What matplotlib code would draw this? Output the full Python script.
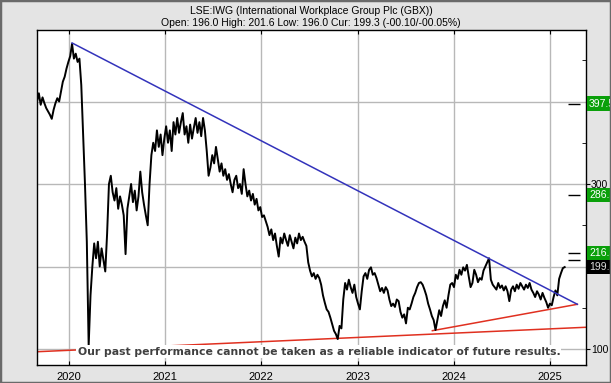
import numpy as np
import pandas as pd
import matplotlib
matplotlib.use('Agg')
import matplotlib.pyplot as plt
from matplotlib import font_manager
from matplotlib.patches import Rectangle

# weekly closes (GBX), first week starting 2019-09-03
start_date = '2019-09-03'
weekly_close = [
    400, 410, 396, 405, 398, 392, 388, 384, 379, 390,
    398, 404, 400, 412, 424, 430, 440, 448, 455, 470,
    452, 458, 448, 452, 420, 360, 300, 230, 104, 165,
    200, 228, 210, 230, 200, 222, 208, 194, 240, 300,
    310, 290, 280, 295, 270, 285, 275, 262, 215, 270,
    285, 300, 278, 292, 268, 285, 315, 290, 275, 262,
    250, 300, 335, 350, 340, 365, 345, 360, 335, 355,
    370, 350, 365, 340, 375, 360, 380, 362, 375, 386,
    360, 370, 350, 372, 355, 368, 380, 362, 375, 358,
    380, 365, 340, 310, 320, 335, 325, 345, 330, 315,
    325, 310, 318, 305, 312, 300, 290, 305, 310, 295,
    300, 288, 318, 300, 285, 292, 280, 288, 275, 282,
    268, 272, 260, 262, 255, 248, 238, 245, 232, 240,
    225, 212, 235, 228, 240, 232, 225, 238, 230, 222,
    235, 228, 240, 232, 236, 230, 225, 205, 195, 188,
    192, 185, 190, 186, 178, 165, 156, 148, 145, 138,
    130, 122, 118, 112, 128, 125, 160, 180, 172, 184,
    175, 168, 178, 163, 155, 148, 170, 188, 192, 185,
    196, 199, 190, 192, 186, 178, 170, 174, 168, 175,
    171, 160, 152, 155, 151, 160, 158, 145, 138, 142,
    131, 150, 148, 155, 163, 168, 175, 180, 181, 178,
    172, 165, 155, 148, 140, 135, 123, 135, 147, 140,
    152, 159, 150, 165, 178, 180, 175, 190, 185, 196,
    190, 199, 195, 202, 188, 175, 180, 196, 190, 181,
    186, 184, 195, 200, 205, 210, 184, 178, 175, 172,
    180, 174, 177, 171, 176, 170, 158, 172, 176, 170,
    178, 173, 180, 176, 172, 178, 174, 180, 172, 168,
    163, 170, 166, 160, 168, 162, 157, 150, 155, 153,
    163, 171, 165, 185, 192, 198, 199.3,
]

# trend lines
blue_dates = ['2020-01-14', '2025-04-14']
blue_vals = [471, 154.2]
red_low_dates = ['2019-09-04', '2025-05-14']
red_low_vals = [96.7, 126.3]
red_up_dates = ['2023-10-12', '2025-04-14']
red_up_vals = [122.2, 154.2]

# target levels (green boxes) and the current price (black box)
targets = [207.3, 216.5, 286.5, 397.5]
current = 199.3
marker_dates = ['2025-03-10', '2025-04-25']

years = [2020, 2021, 2022, 2023, 2024, 2025]
y_major = [100, 200, 300, 400]
y_minor = [150, 250, 350, 450]

title1 = 'LSE:IWG (International Workplace Group Plc (GBX))'
title2 = 'Open: 196.0 High: 201.6 Low: 196.0 Cur: 199.3 (-00.10/-00.05%)'
disclaimer = 'Our past performance cannot be taken as a reliable indicator of future results.'

plt.rcParams['font.family'] = ['Liberation Sans', 'DejaVu Sans']

dates = pd.date_range(start_date, periods=len(weekly_close), freq='7D')

fig = plt.figure(figsize=(6.11, 3.83), dpi=100)
fig.patch.set_facecolor('#e4e4e4')
fig.patches.append(Rectangle((0, 0), 1, 1, transform=fig.transFigure, fill=False,
                             ec='#6a6a6a', lw=2.5, zorder=0))

ax = fig.add_axes([37 / 611, 1 - 365 / 383, 548.5 / 611, 335.5 / 383])
ax.set_facecolor('white')

ax.plot(dates, weekly_close, color='black', lw=1.4, zorder=3)
ax.plot(pd.to_datetime(blue_dates), blue_vals, color='#3333bb', lw=1.1, zorder=4)
ax.plot(pd.to_datetime(red_low_dates), red_low_vals, color='#e03020', lw=1.1, zorder=2)
ax.plot(pd.to_datetime(red_up_dates), red_up_vals, color='#e03020', lw=1.1, zorder=2)
ax.hlines(targets, pd.Timestamp(marker_dates[0]), pd.Timestamp(marker_dates[1]),
          color='black', lw=1, zorder=4)

ax.set_xlim(pd.Timestamp('2019-09-03'), pd.Timestamp('2025-05-15'))
ax.set_ylim(80.6, 487.3)

ax.set_xticks([pd.Timestamp(f'{y}-01-01') for y in years])
ax.set_xticklabels([str(y) for y in years])
ax.tick_params(axis='x', direction='in', length=3, top=True, labelsize=8, pad=5)

ax.yaxis.tick_right()
ax.set_yticks(y_major)
ax.set_yticklabels([str(v) for v in y_major])
ax.set_yticks(y_minor, minor=True)
ax.tick_params(axis='y', which='major', direction='out', length=3, labelsize=7.5, pad=1)
ax.tick_params(axis='y', which='minor', direction='in', length=3, right=True, left=False)
ax.grid(True, which='major', color='#b8b8b8', lw=1, zorder=0)
for s in ax.spines.values():
    s.set_color('black')
    s.set_linewidth(1)

# price boxes on the right edge
for i, t in enumerate(targets):
    ax.annotate(f'{t:.1f}', xy=(1.0, t), xycoords=('axes fraction', 'data'),
                xytext=(2.5, 0), textcoords='offset points', ha='left', va='center',
                fontsize=7.5, color='white', annotation_clip=False, zorder=5 + i,
                bbox=dict(boxstyle='square,pad=0.2', fc='#0aa00a', ec='none'))
ax.annotate(f'{current:.1f}', xy=(1.0, current), xycoords=('axes fraction', 'data'),
            xytext=(2.5, 0), textcoords='offset points', ha='left', va='center',
            fontsize=7.5, color='#dddddd', annotation_clip=False, zorder=10,
            bbox=dict(boxstyle='square,pad=0.2', fc='black', ec='none'))

# disclaimer
names = {f.name for f in font_manager.fontManager.ttflist}
if 'Liberation Sans Narrow' in names:
    disc_font, disc_size = 'Liberation Sans Narrow', 10.5
else:
    disc_font, disc_size = 'DejaVu Sans', 7.8
ax.text(0.514, 0.04, disclaimer, transform=ax.transAxes, ha='center', va='center',
        fontsize=disc_size, fontweight='bold', family=disc_font, color='#404040', zorder=6,
        bbox=dict(boxstyle='square,pad=0.1', fc='white', ec='none'))

fig.text(311 / 611, 1 - 10.5 / 383, title1, ha='center', va='center', fontsize=7.5)
fig.text(311 / 611, 1 - 23 / 383, title2, ha='center', va='center', fontsize=7.5)

fig.savefig('out.png', dpi=100, facecolor=fig.get_facecolor())
